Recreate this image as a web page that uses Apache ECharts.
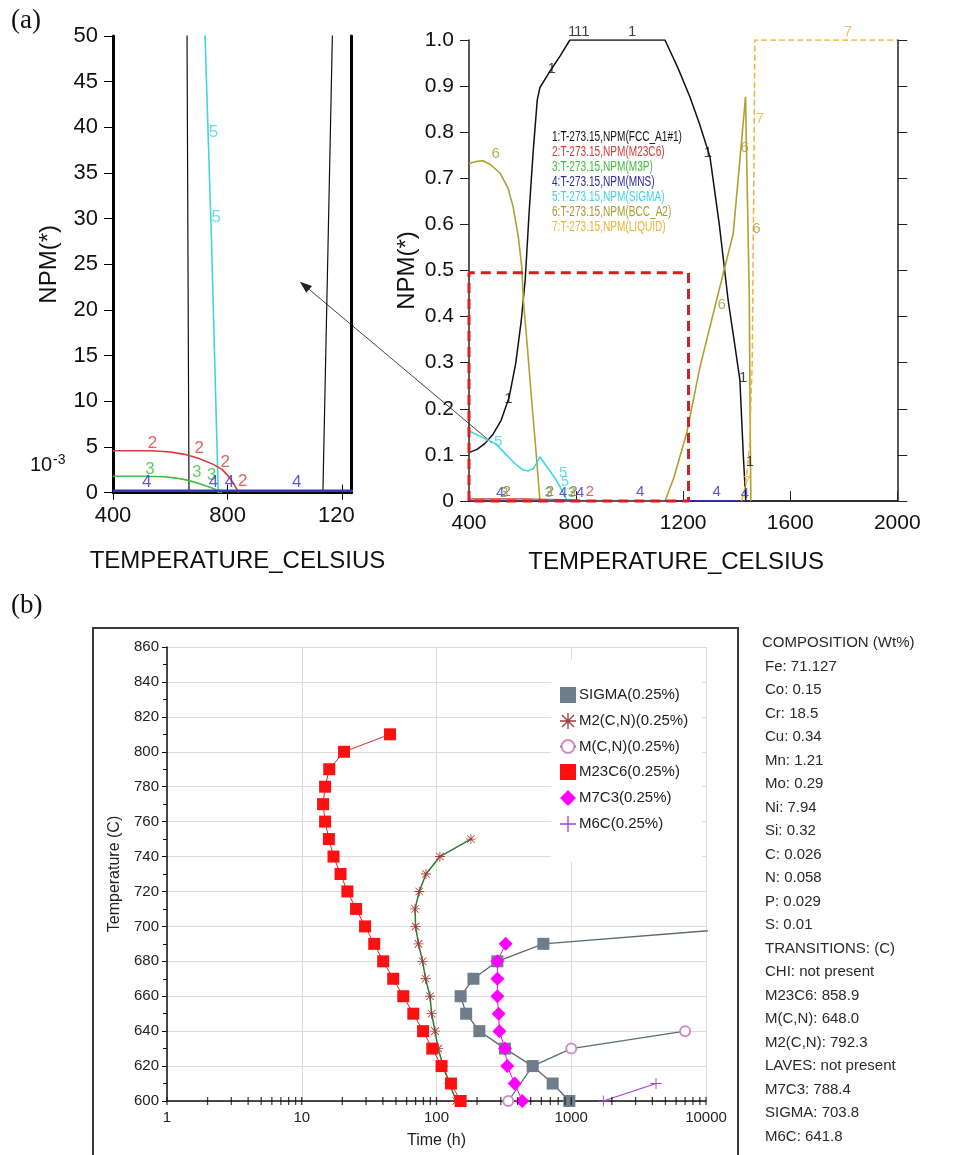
<!DOCTYPE html>
<html><head><meta charset="utf-8">
<script src="https://cdn.jsdelivr.net/npm/echarts@6/dist/echarts.min.js"></script>
<style>html,body{margin:0;padding:0;background:#fff}#c{width:958px;height:1155px}</style>
</head><body><div id="c"></div>
<script>
// ===== (a) Equilibrium phase fractions NPM(*) vs TEMPERATURE_CELSIUS =====
const fccT = [400,430,460,490,520,550,575,595,610,625,640,655,665,700,740,777,1132,1180,1225,1260,1300,1335,1368,1390,1412,1420,1425,1434];
const fccV = [0.105,0.112,0.125,0.145,0.175,0.225,0.30,0.39,0.48,0.63,0.76,0.87,0.897,0.93,0.965,1.0,1.0,0.94,0.877,0.82,0.747,0.60,0.436,0.35,0.262,0.16,0.096,0.0];
const bccT = [400,430,453,480,516,545,565,585,597,603,620,634,650,665,1132,1165,1213,1263,1325,1387,1412,1433,1447,1450,1453];
const bccV = [0.732,0.737,0.738,0.73,0.711,0.68,0.638,0.57,0.508,0.436,0.32,0.219,0.11,0.0,0.0,0.05,0.147,0.291,0.436,0.58,0.74,0.877,0.443,0.2,0.0];
const liqT = [1418,1428,1438,1448,1458,1464,1468,2000];
const liqV = [0,0.02,0.06,0.12,0.3,0.7,1.0,1.0];
const sigT = [400,450,500,540,570,600,620,640,655,665,690,721,744,767];
const sigV = [0.152,0.138,0.124,0.1,0.082,0.068,0.065,0.07,0.084,0.096,0.075,0.05,0.027,0];
const m23T = [400,450,500,550,600,650,700,750,780,800,820,838];
const m23V = [0.0046,0.0046,0.0046,0.00457,0.00445,0.0042,0.00375,0.0031,0.00255,0.0019,0.00105,0];
const m3pT = [400,500,580,620,663,700,750,780];
const m3pV = [0.0018,0.0018,0.00175,0.0016,0.00135,0.001,0.00045,0];
const mnsT = [400,1430,1440];
const mnsV = [0.0002,0.0002,0];
const zoomBoxT = [400,1220];
const zoomBoxV = [0,0.495];
const arrowHead = [1052,0.0231];   // in left panel units
const arrowTail = [486,0.126];     // in right panel units
const legendA = ['1:T-273.15,NPM(FCC_A1#1)','2:T-273.15,NPM(M23C6)','3:T-273.15,NPM(M3P)','4:T-273.15,NPM(MNS)','5:T-273.15,NPM(SIGMA)','6:T-273.15,NPM(BCC_A2)','7:T-273.15,NPM(LIQUID)'];
// curve number labels [T, NPM]
const lab1R = [[709,0.937],[785,1.017],[808,1.017],[835,1.017],[1010,1.017],[1293,0.756],[547,0.222],[1424,0.268],[1449,0.084]];
const lab6R = [[500,0.752],[1430,0.765],[1474,0.59],[1344,0.425]];
const lab7R = [[1487,0.83],[1816,1.018],[1437,0.042]];
const lab5R = [[509,0.129],[752,0.06],[758,0.042]];
const lab2R = [[541,0.02],[702,0.02],[790,0.02],[852,0.02]];
const lab3R = [[531,0.018],[698,0.018],[784,0.018]];
const lab4R = [[516,0.018],[752,0.018],[815,0.018],[1039,0.02],[1325,0.02],[1431,0.015]];
const lab5L = [[750,0.0395],[760,0.0302]];
const lab2L = [[538,0.0054],[701,0.0049],[791,0.0033],[852,0.0012]];
const lab3L = [[529,0.0026],[692,0.0022],[744,0.0019]];
const lab4L = [[518,0.0011],[750,0.0011],[806,0.0011],[1041,0.0011]];

// ===== (b) TTP diagram: Temperature (C) vs Time (h) =====
const sigmaTemp = [600,610,620,630,640,650,660,670,680,690,700];
const sigmaTime = [968,728,517,322,208,166,151,188,283,621,26500];
const m2Temp = [600,610,620,630,640,650,660,670,680,690,700,710,720,730,740,750];
const m2Time = [140,125,112,103,97.5,92,89.5,83,78.9,73.5,70,69.3,74.5,83.6,106,180];
const mcnTemp = [600,620,630,640];
const mcnTime = [341,517,1000,7000];
const m23Temp = [600,610,620,630,640,650,660,670,680,690,700,710,720,730,740,750,760,770,780,790,800,810];
const m23Time = [151,128,109,93,79.5,67.3,56.7,47.7,40.2,34.5,29.5,25.3,21.8,19.4,17.2,15.9,14.9,14.4,14.9,16.0,20.6,45.2];
const m7Temp = [600,610,620,630,640,650,660,670,680,690];
const m7Time = [433,380,335,322,293,289,283,283,283,326];
const m6Temp = [600,610];
const m6Time = [1730,4256];
const timeDecades = [1,10,100,1000];
const tickMultipliers = [1,2,3,4,5,6,7,8,9];
const compLines = ['COMPOSITION (Wt%)','Fe: 71.127','Co: 0.15','Cr: 18.5','Cu: 0.34','Mn: 1.21','Mo: 0.29','Ni: 7.94','Si: 0.32','C: 0.026','N: 0.058','P: 0.029','S: 0.01','TRANSITIONS: (C)','CHI: not present','M23C6: 858.9','M(C,N): 648.0','M2(C,N): 792.3','LAVES: not present','M7C3: 788.4','SIGMA: 703.8','M6C: 641.8'];

const FONT = "'Liberation Sans', Arial, sans-serif";
const P = (xs, ys) => xs.map((x, i) => [x, ys[i]]);
const C = {fcc:'#111111', m23:'#d83a3a', m3p:'#3cbf3c', mns:'#3434c8', sig:'#3dd6e0', bcc:'#b0a030', liq:'#efb236'};

function curve(xi, yi, xs, ys, color, width, type, z) {
  return {type:'line', xAxisIndex:xi, yAxisIndex:yi, data:P(xs, ys), symbol:'none', showSymbol:false,
    lineStyle:{color:color, width:width, type:type || 'solid'}, silent:true, z:z || 2};
}
function lbl(xi, yi, pts, text, color, size) {
  return {type:'scatter', xAxisIndex:xi, yAxisIndex:yi, data:pts, symbol:'circle', symbolSize:1,
    itemStyle:{color:'rgba(0,0,0,0)'}, clip:false, silent:true, z:6,
    label:{show:true, position:'inside', formatter:text, color:color, fontSize:size, fontFamily:FONT}};
}
const logTicks = [];
timeDecades.forEach(d => tickMultipliers.forEach(m => logTicks.push(d * m)));
logTicks.push(10000);

const ASTER = 'path://M11,0L13,0L13,24L11,24Z M0,11L24,11L24,13L0,13Z M3.7,2.3L21.7,20.3L20.3,21.7L2.3,3.7Z M20.3,2.3L21.7,3.7L3.7,21.7L2.3,20.3Z';
const PLUS = 'path://M11,0L13,0L13,24L11,24Z M0,11L24,11L24,13L0,13Z';

const axTxt = {color:'#111', fontFamily:FONT};
const option = {
  animation:false,
  backgroundColor:'#fff',
  grid:[
    {left:113, top:36, width:238, height:456.7, outerBoundsMode:'none'},
    {left:469, top:40, width:428.3, height:461, outerBoundsMode:'none'},
    {left:167, top:647, width:539, height:454, outerBoundsMode:'none'}
  ],
  xAxis:[
    {gridIndex:0, type:'value', min:400, max:1230, interval:400, position:'bottom',
     axisLine:{show:true, lineStyle:{color:'#000', width:1.5}},
     axisTick:{show:true, length:7, customValues:[400,800,1200], lineStyle:{color:'#000'}},
     axisLabel:Object.assign({fontSize:22, margin:12, customValues:[400,800,1200],
       formatter:v => v === 1200 ? '120\u00a0\u00a0' : String(v)}, axTxt),
     splitLine:{show:false},
     name:'TEMPERATURE_CELSIUS', nameLocation:'middle', nameGap:57,
     nameTextStyle:{fontSize:24, color:'#111', fontFamily:FONT, padding:[0,0,0,11]}},
    {gridIndex:0, type:'value', min:400, max:1230, interval:400, position:'top',
     axisLine:{show:true, lineStyle:{color:'#000', width:3}},
     axisTick:{show:true, length:8, customValues:[400,800,1200], lineStyle:{color:'#000'}},
     axisLabel:{show:false}, splitLine:{show:false}},
    {gridIndex:1, type:'value', min:400, max:2000, interval:400, position:'bottom',
     axisLine:{show:true, lineStyle:{color:'#222', width:1.5}},
     axisTick:{show:false},
     axisLabel:Object.assign({fontSize:21, margin:12, formatter:v => String(v)}, axTxt),
     splitLine:{show:false},
     name:'TEMPERATURE_CELSIUS', nameLocation:'middle', nameGap:49,
     nameTextStyle:{fontSize:24, color:'#111', fontFamily:FONT, padding:[0,14,0,0]}},
    {gridIndex:1, type:'value', min:400, max:2000, interval:400, position:'top',
     axisLine:{show:true, lineStyle:{color:'#222', width:1.5}},
     axisTick:{show:true, length:10, lineStyle:{color:'#222'}},
     axisLabel:{show:false}, splitLine:{show:false}},
    {gridIndex:2, type:'log', logBase:10, min:1, max:10000,
     axisLine:{show:true, lineStyle:{color:'#111', width:1.5}},
     axisTick:{show:false},
     axisLabel:{fontSize:15, margin:9, color:'#222', fontFamily:FONT, formatter:v => String(Math.round(v))},
     splitLine:{show:true, lineStyle:{color:'#dcdcdc', width:1}},
     name:'Time (h)', nameLocation:'middle', nameGap:32,
     nameTextStyle:{fontSize:16, color:'#222', fontFamily:FONT}}
  ],
  yAxis:[
    {gridIndex:0, type:'value', min:0, max:0.05, interval:0.005,
     axisLine:{show:true, lineStyle:{color:'#000', width:3}},
     axisTick:{show:true, length:9, lineStyle:{color:'#000'}},
     axisLabel:Object.assign({fontSize:22, margin:15, formatter:v => String(Math.round(v * 1000))}, axTxt),
     splitLine:{show:false},
     name:'NPM(*)', nameLocation:'middle', nameGap:52,
     nameTextStyle:{fontSize:24, color:'#111', fontFamily:FONT}},
    {gridIndex:0, type:'value', min:0, max:0.05, position:'right',
     axisLine:{show:true, lineStyle:{color:'#000', width:3}},
     axisTick:{show:false}, axisLabel:{show:false}, splitLine:{show:false}},
    {gridIndex:1, type:'value', min:0, max:1, interval:0.1,
     axisLine:{show:true, lineStyle:{color:'#222', width:1.5}},
     axisTick:{show:true, length:9, lineStyle:{color:'#222'}},
     axisLabel:Object.assign({fontSize:21, margin:15, formatter:v => v === 0 ? '0' : v.toFixed(1)}, axTxt),
     splitLine:{show:false},
     name:'NPM(*)', nameLocation:'middle', nameGap:50,
     nameTextStyle:{fontSize:24, color:'#111', fontFamily:FONT}},
    {gridIndex:1, type:'value', min:0, max:1, interval:0.1, position:'right',
     axisLine:{show:true, lineStyle:{color:'#222', width:1.5}},
     axisTick:{show:true, length:10, lineStyle:{color:'#222'}},
     axisLabel:{show:false}, splitLine:{show:false}},
    {gridIndex:2, type:'value', min:600, max:860, interval:20,
     axisLine:{show:true, lineStyle:{color:'#111', width:1.5}},
     axisTick:{show:true, length:5, lineStyle:{color:'#111'}},
     minorTick:{show:true, splitNumber:2, length:4, lineStyle:{color:'#111'}},
     axisLabel:{fontSize:15, margin:8, color:'#222', fontFamily:FONT},
     splitLine:{show:true, lineStyle:{color:'#dcdcdc', width:1}},
     name:'Temperature (C)', nameLocation:'middle', nameGap:44,
     nameTextStyle:{fontSize:16, color:'#222', fontFamily:FONT}}
  ],
  legend:{
    selectedMode:false, orient:'vertical', left:551, top:660,
    padding:[27,14,30,8], backgroundColor:'#fff',
    itemWidth:16, itemHeight:16, itemGap:10,
    textStyle:{fontSize:15, color:'#222', fontFamily:FONT, padding:[0,0,0,-2]},
    data:[
      {name:'SIGMA(0.25%)', icon:'rect'},
      {name:'M2(C,N)(0.25%)', icon:ASTER},
      {name:'M(C,N)(0.25%)'},
      {name:'M23C6(0.25%)', icon:'rect'},
      {name:'M7C3(0.25%)', icon:'diamond'},
      {name:'M6C(0.25%)', icon:PLUS}
    ]
  },
  series:[
    // left panel (zoomed x10^-3)
    curve(0,0,bccT,bccV,'#111',1.2),
    curve(0,0,sigT,sigV,C.sig,1.6),
    curve(0,0,m23T,m23V,C.m23,1.6),
    curve(0,0,m3pT,m3pV,C.m3p,1.6),
    curve(0,0,mnsT,mnsV,C.mns,2.5),
    lbl(0,0,lab5L,'5',C.sig,17), lbl(0,0,lab2L,'2',C.m23,17),
    lbl(0,0,lab3L,'3',C.m3p,17), lbl(0,0,lab4L,'4',C.mns,17),
    // right panel
    curve(2,2,fccT,fccV,C.fcc,1.5),
    curve(2,2,bccT,bccV,C.bcc,1.6),
    curve(2,2,sigT,sigV,C.sig,1.6),
    curve(2,2,m23T,m23V,C.m23,1.2),
    curve(2,2,m3pT,m3pV,C.m3p,1.2),
    curve(2,2,mnsT,mnsV,C.mns,1.2),
    curve(2,2,liqT,liqV,C.liq,1.5,'dashed'),
    {type:'line', xAxisIndex:2, yAxisIndex:2, symbol:'none', silent:true, clip:false, z:4,
     data:[[zoomBoxT[0],zoomBoxV[0]],[zoomBoxT[0],zoomBoxV[1]],[zoomBoxT[1],zoomBoxV[1]],[zoomBoxT[1],zoomBoxV[0]],[zoomBoxT[0],zoomBoxV[0]]],
     lineStyle:{color:'#d42020', width:3, type:[10,6]}},
    lbl(2,2,lab1R,'1','#111',15), lbl(2,2,lab6R,'6','#a89a2a',15), lbl(2,2,lab7R,'7',C.liq,15),
    lbl(2,2,lab5R,'5',C.sig,15), lbl(2,2,lab2R,'2',C.m23,15), lbl(2,2,lab3R,'3',C.m3p,15), lbl(2,2,lab4R,'4',C.mns,15),
    // (b) TTP diagram
    {name:'M(C,N)(0.25%)', type:'line', xAxisIndex:4, yAxisIndex:4, data:P(mcnTime,mcnTemp),
     symbol:'emptyCircle', symbolSize:10, itemStyle:{color:'#cf8fc6', borderWidth:1.2}, lineStyle:{color:'#5d6a73', width:1.3}},
    {name:'SIGMA(0.25%)', type:'line', xAxisIndex:4, yAxisIndex:4, data:P(sigmaTime,sigmaTemp),
     symbol:'rect', symbolSize:12, itemStyle:{color:'#6e7d8a'}, lineStyle:{color:'#5d6a73', width:1.3}},
    {name:'M2(C,N)(0.25%)', type:'line', xAxisIndex:4, yAxisIndex:4, data:P(m2Time,m2Temp),
     symbol:ASTER, symbolSize:10, itemStyle:{color:'#a8383a'}, lineStyle:{color:'#2e7a30', width:1.5}},
    {name:'M23C6(0.25%)', type:'line', xAxisIndex:4, yAxisIndex:4, data:P(m23Time,m23Temp),
     symbol:'rect', symbolSize:12, itemStyle:{color:'#ff1010'}, lineStyle:{color:'#d42a2a', width:1}},
    {name:'M7C3(0.25%)', type:'line', xAxisIndex:4, yAxisIndex:4, data:P(m7Time,m7Temp),
     symbol:'diamond', symbolSize:14, itemStyle:{color:'#ff00ff'}, lineStyle:{color:'#ff00ff', width:1}},
    {name:'M6C(0.25%)', type:'line', xAxisIndex:4, yAxisIndex:4, data:P(m6Time,m6Temp),
     symbol:PLUS, symbolSize:11, itemStyle:{color:'#a040d8'}, lineStyle:{color:'#a040d8', width:1.2}},
    {type:'scatter', xAxisIndex:4, yAxisIndex:4, data:logTicks.map(t => [t, 600]), symbol:'rect', symbolSize:[1.3,8],
     itemStyle:{color:'#111'}, silent:true, clip:false, z:4}
  ],
  graphic:{elements:[
    {type:'text', id:'ta', x:11, y:7, style:{text:'(a)', fontSize:27, fontFamily:"'Liberation Serif', serif", fill:'#111'}},
    {type:'text', id:'tb', x:11, y:592, style:{text:'(b)', fontSize:27, fontFamily:"'Liberation Serif', serif", fill:'#111'}},
    {type:'text', id:'e10', x:30, y:475, style:{text:'10', fontSize:20, fontFamily:FONT, fill:'#111', verticalAlign:'bottom'}},
    {type:'text', id:'e3', x:53, y:467, style:{text:'-3', fontSize:14, fontFamily:FONT, fill:'#111', verticalAlign:'bottom'}},
    {type:'rect', id:'frameB', shape:{x:93, y:628, width:645, height:600}, style:{fill:'none', stroke:'#3a3a3a', lineWidth:2}, silent:true},
    {type:'group', id:'legA', x:552, y:136.7, scaleX:0.72,
     children:legendA.map((s, i) => ({type:'text', x:0, y:i * 15,
       style:{text:s, fontSize:14, fontFamily:FONT, fill:[C.fcc,C.m23,C.m3p,'#2a2a9a',C.sig,'#a89a2a',C.liq][i], verticalAlign:'middle'}}))}
  ].concat(compLines.map((s, i) => ({type:'text', id:'comp' + i, x:i === 0 ? 762 : 765, y:643 + i * 23.5,
     style:{text:s, fontSize:15, fontFamily:FONT, fill:'#2a2a2a', verticalAlign:'middle'}})))}
};

const chart = echarts.init(document.getElementById('c'), null, {renderer:'canvas', width:958, height:1155});
chart.setOption(option);
const h = chart.convertToPixel({xAxisIndex:0, yAxisIndex:0}, arrowHead);
const t = chart.convertToPixel({xAxisIndex:2, yAxisIndex:2}, arrowTail);
const dx = h[0] - t[0], dy = h[1] - t[1], L = Math.hypot(dx, dy);
const ux = dx / L, uy = dy / L, nx = -uy, ny = ux;
const bx = h[0] - ux * 12, by = h[1] - uy * 12;
chart.setOption({graphic:{elements:[
  {type:'line', id:'arrL', shape:{x1:t[0], y1:t[1], x2:bx, y2:by}, style:{stroke:'#444', lineWidth:1}, silent:true},
  {type:'polygon', id:'arrH', shape:{points:[[h[0],h[1]],[bx + nx * 4.5, by + ny * 4.5],[bx - nx * 4.5, by - ny * 4.5]]}, style:{fill:'#222'}, silent:true}
]}});
</script>
</body></html>
